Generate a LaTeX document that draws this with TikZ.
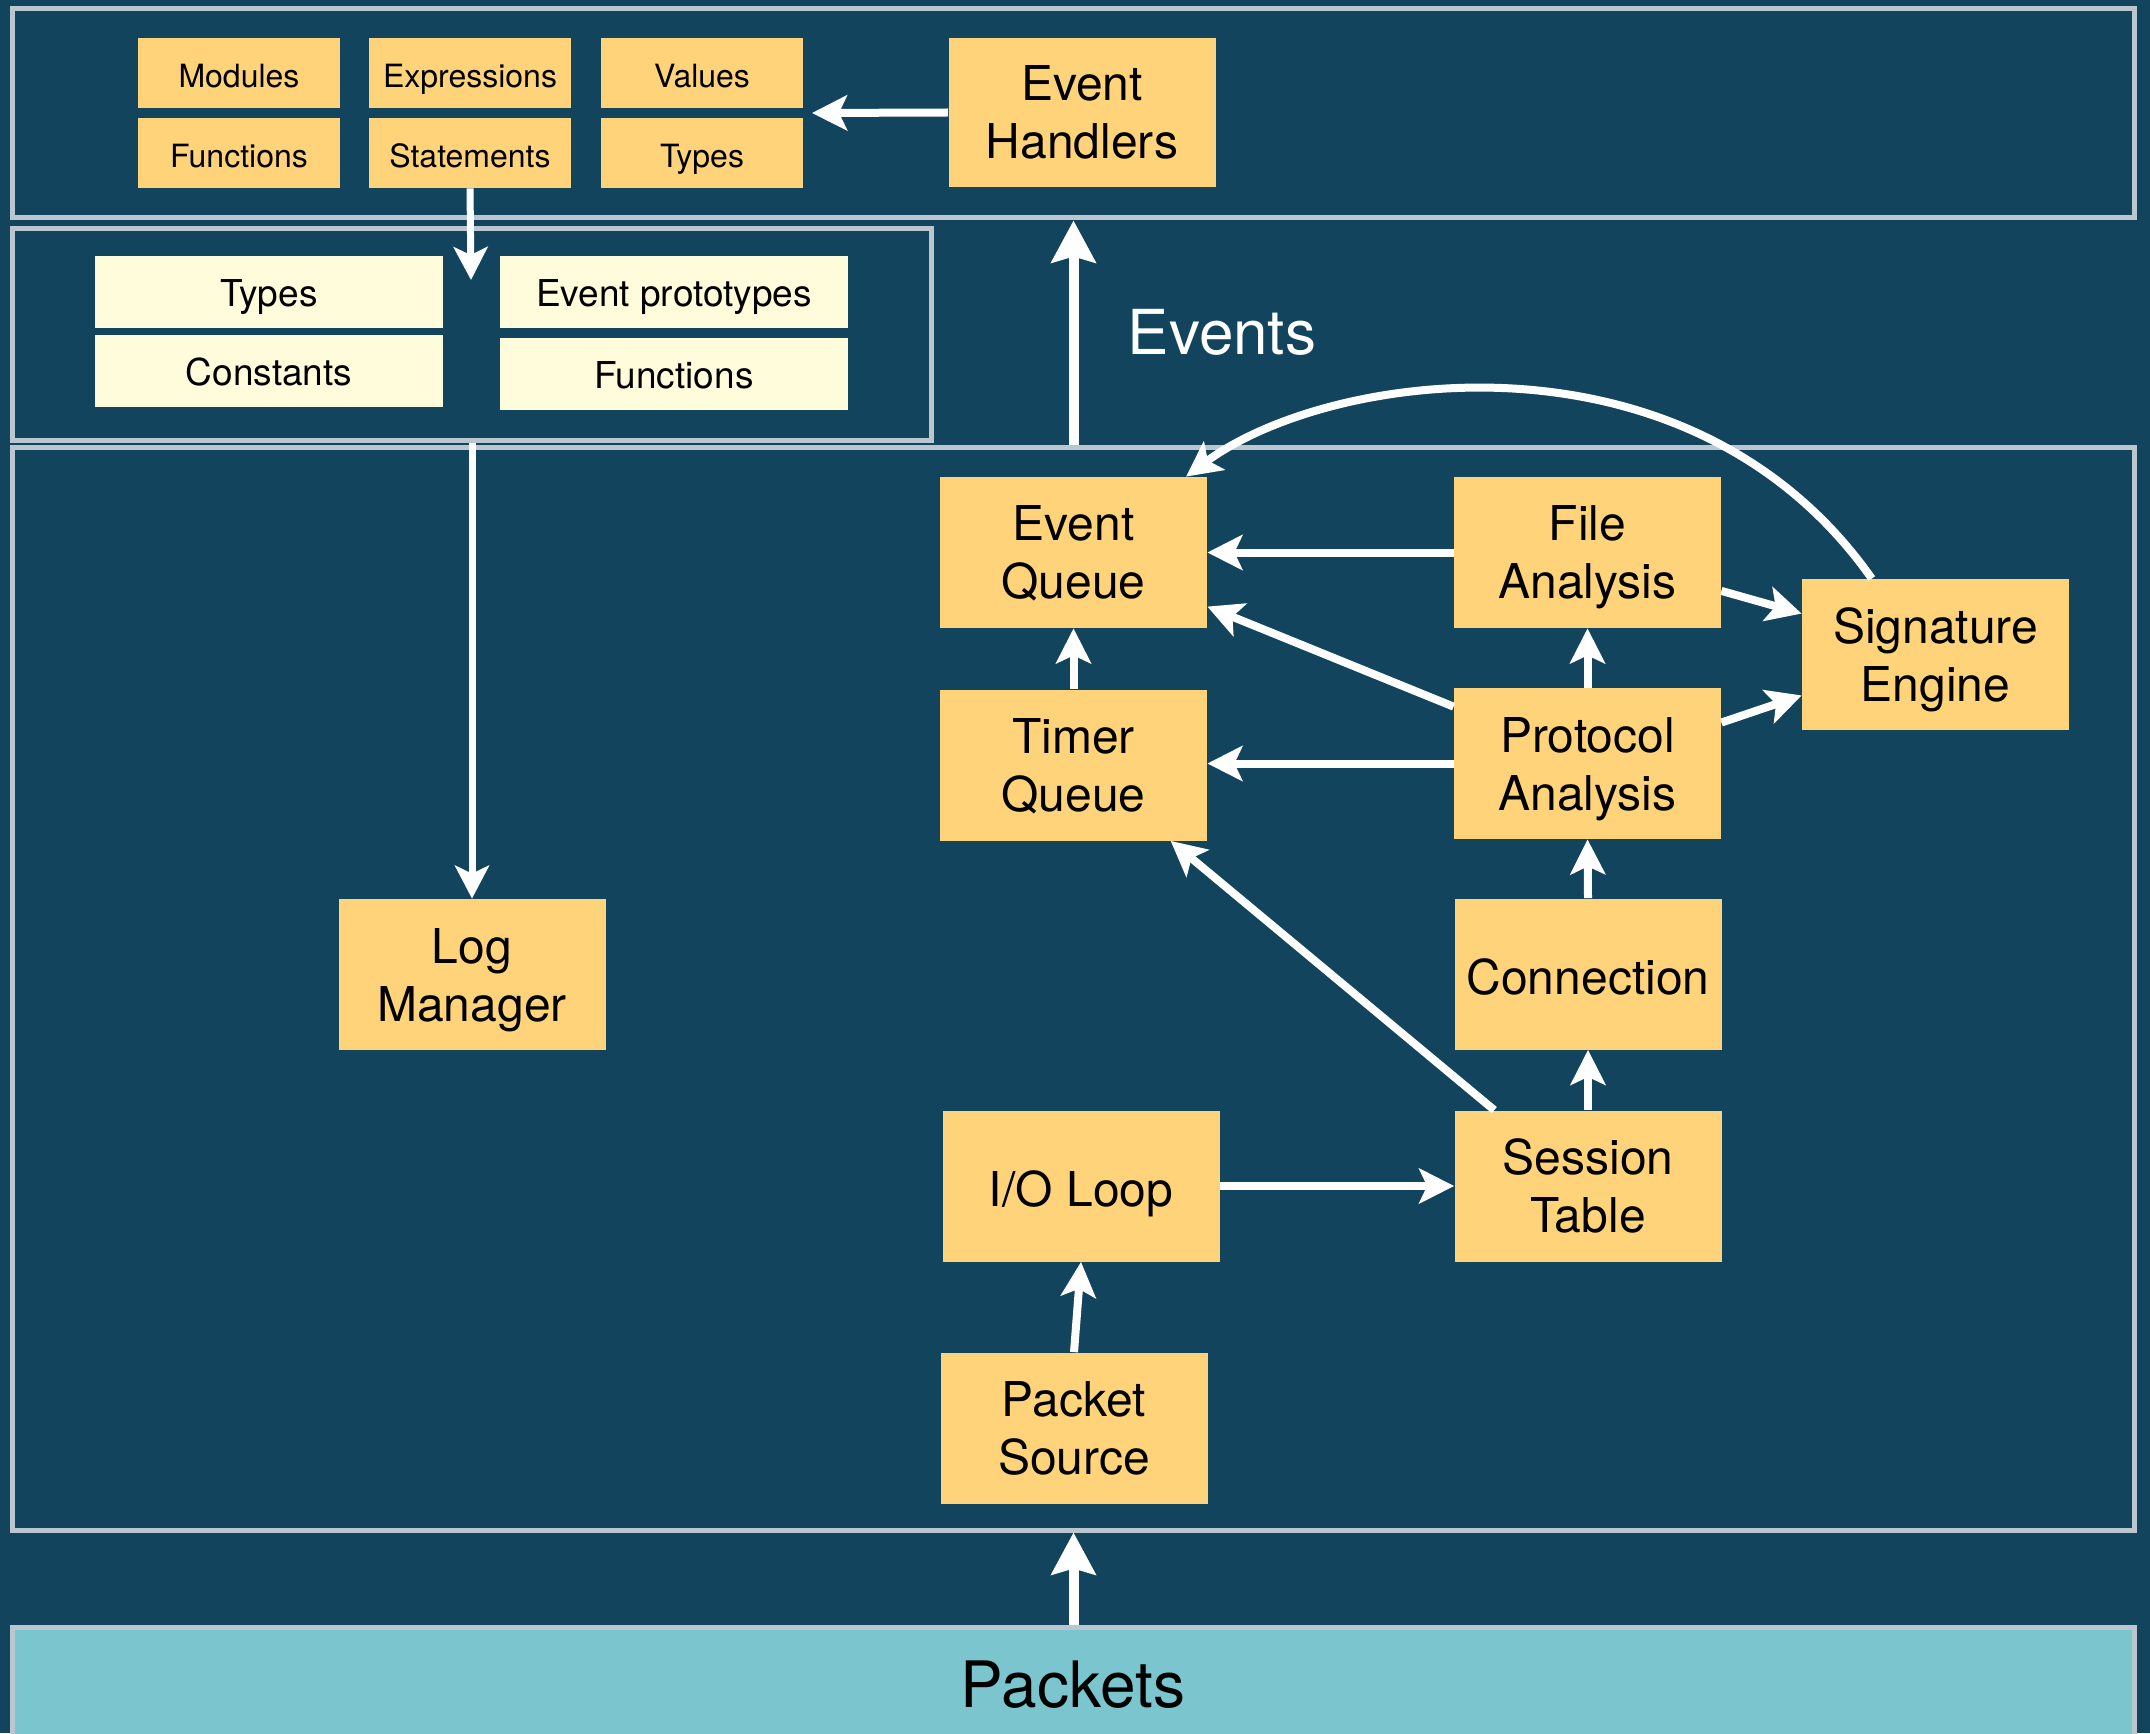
\documentclass[tikz,border=0pt]{standalone}
\usepackage{fontspec}
\setmainfont{TeX Gyre Heros}
\usetikzlibrary{arrows.meta}
\definecolor{bg}{RGB}{18,68,94}
\definecolor{obox}{RGB}{255,211,122}
\definecolor{lbox}{RGB}{255,252,220}
\definecolor{frm}{RGB}{186,199,207}
\definecolor{pkt}{RGB}{123,198,206}
\newcommand\nodepth[1]{\raisebox{0pt}[\height][0pt]{#1}}
\begin{document}
\begin{tikzpicture}[x=0.5pt,y=-0.5pt,
  framebox/.style={draw=frm, line width=2.5pt, inner sep=0pt},
  mainbox/.style={fill=obox, inner sep=0pt, align=center, text=black,
    minimum width=133.5pt, minimum height=75.5pt, font=\fontsize{24}{29}\selectfont},
  oneline/.style={text height=20pt, text depth=0pt},
  smallbox/.style={fill=obox, inner sep=0pt, text=black, text height=15pt, text depth=0pt,
    minimum width=101pt, minimum height=35pt, font=\fontsize{16}{19}\selectfont},
  litebox/.style={fill=lbox, inner sep=0pt, text=black, text height=14.8pt, text depth=0pt,
    minimum width=174pt, minimum height=36pt, font=\fontsize{18.5}{22}\selectfont},
  arr/.style={draw=white, line width=4pt, -{Stealth[length=17.5pt,width=17.5pt,inset=4pt]}},
  thinarr/.style={draw=white, line width=3.5pt, -{Stealth[length=16.5pt,width=17pt,inset=4pt]}},
  bigarr/.style={draw=white, line width=5pt, -{Stealth[length=21pt,width=22pt,inset=3pt]}}
]
\useasboundingbox (0,0) rectangle (2150,1733);
\clip (0,0) rectangle (2150,1733);
\fill[bg] (0,0) rectangle (2150,1733);

% frames
\node[framebox, minimum width=1061pt, minimum height=104.5pt] (topF) at (1073,113.5) {};
\node[framebox, minimum width=459.5pt, minimum height=105.5pt] (midF) at (471.5,334.5) {};
\node[framebox, minimum width=1061pt, minimum height=541.5pt] (bigF) at (1073,988.5) {};
\node[draw=frm, line width=2.5pt, fill=pkt, inner sep=0pt, text=black,
  minimum width=1061pt, minimum height=58pt, font=\fontsize{32}{38}\selectfont] (pk) at (1073,1685) {Packets};

% top boxes
\node[smallbox] (mod) at (239,73) {Modules};
\node[smallbox] (expr) at (470,73) {Expressions};
\node[smallbox] (val) at (702,73) {Values};
\node[smallbox] (fun) at (239,153) {Functions};
\node[smallbox] (stm) at (470,153) {Statements};
\node[smallbox] (typ) at (702,153) {Types};
\node[mainbox, minimum height=74.5pt] (eh) at (1082,112.5) {Event\\Handlers};

% light boxes
\node[litebox] (ltyp) at (269,292) {Types};
\node[litebox] (lcon) at (269,371) {Constants};
\node[litebox] (lep) at (674,292) {Event prototypes};
\node[litebox] (lfun) at (674,374) {Functions};

% main boxes
\node[mainbox] (eq) at (1073.5,552.5) {Event\\\nodepth{Queue}};
\node[mainbox] (fa) at (1587.5,552.5) {File\\\nodepth{Analysis}};
\node[mainbox] (se) at (1935.5,654.5) {Signature\\\nodepth{Engine}};
\node[mainbox] (tq) at (1073.5,765) {Timer\\\nodepth{Queue}};
\node[mainbox] (pa) at (1587.5,763.5) {Protocol\\\nodepth{Analysis}};
\node[mainbox, oneline] (cn) at (1588,974) {Connection};
\node[mainbox] (st) at (1588,1186) {Session\\Table};
\node[mainbox, oneline, minimum width=138.5pt] (io) at (1081,1186) {I/O Loop};
\node[mainbox] (ps) at (1074,1428) {Packet\\Source};
\node[mainbox] (lm) at (472,974.5) {Log\\\nodepth{Manager}};

\node[text=white, inner sep=0pt, anchor=base, font=\fontsize{31}{37}\selectfont] (evl) at (1222,355) {Events};

% connectors
\coordinate (ehT) at (812,113);
\draw[arr] (eh.west) -- (ehT);
\coordinate (stmT) at (471,280);
\draw[thinarr] (stm.south) -- (stmT);
\draw[thinarr] (midF.south -| lm.north) -- (lm.north);
\draw[bigarr] (bigF.north -| eq.north) -- (topF.south -| eq.north);
\draw[bigarr] (pk.north -| eq.north) -- (bigF.south -| eq.north);
\draw[arr] (fa.west) -- (eq.east);
\draw[arr] (pa.157.6) -- (eq.-22.7);
\draw[arr] (pa.west) -- (pa.west -| tq.east);
\draw[arr] (tq.north) -- (eq.south);
\draw[arr] (pa.north) -- (fa.south);
\draw[arr] (fa.-16.5) -- (se.163);
\draw[arr] (pa.17.1) -- (se.-163);
\draw[arr] (se.130.5) .. controls (1690,320) and (1330,370) .. (eq.34.6);
\draw[arr] (cn.north) -- (pa.south);
\draw[arr] (st.north) -- (cn.south);
\draw[arr] (st.141) -- (tq.-38.8);
\draw[arr] (io.east) -- (st.west);
\draw[arr] (ps.north) -- (io.south);
\end{tikzpicture}
\end{document}
